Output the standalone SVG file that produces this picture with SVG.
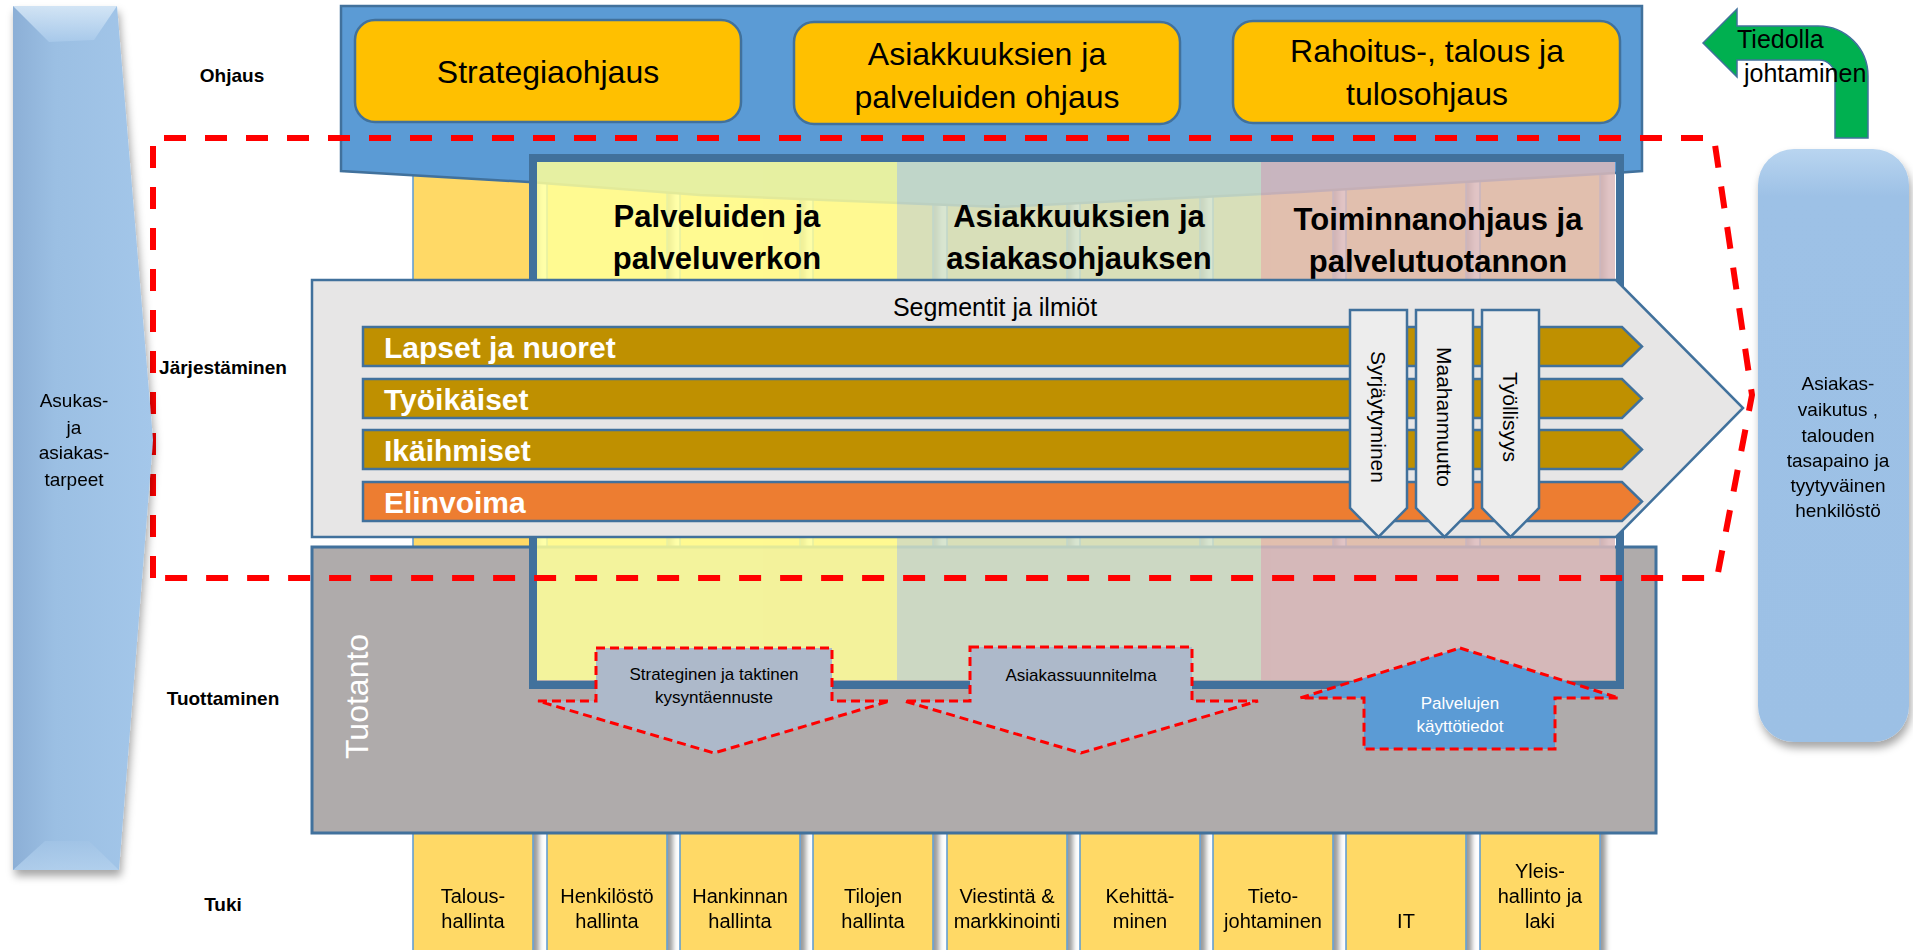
<svg xmlns="http://www.w3.org/2000/svg" width="1913" height="950" viewBox="0 0 1913 950">
<defs>
<style>
text{font-family:"Liberation Sans",Arial,sans-serif;fill:#000}
.row{font-size:19px;font-weight:bold;text-anchor:middle}
.ctrl{font-size:32px;text-anchor:middle}
.hdr{font-size:31px;font-weight:bold;text-anchor:middle}
.bar{font-size:30px;font-weight:bold;fill:#fff}
.vt{font-size:21px;text-anchor:middle}
.sm{font-size:17px;text-anchor:middle}
.tk{font-size:20px;text-anchor:middle}
.side{font-size:19px;text-anchor:middle}
.box{fill:#FFC000;stroke:#41719C;stroke-width:2.5}
.tcol{fill:#FFD966;stroke:#5B9BD5;stroke-width:1.5}
.seg{fill:#BF9000;stroke:#41719C;stroke-width:2.5}
.varr{fill:#EDEDED;stroke:#41719C;stroke-width:2.5}
.dash{stroke:#FF0000;stroke-width:3;stroke-dasharray:9 5}
</style>
<filter id="shR" x="-10%" y="-5%" width="130%" height="115%">
<feDropShadow dx="5" dy="1" stdDeviation="2.5" flood-color="#000" flood-opacity="0.4"/>
</filter>
<filter id="shD" x="-10%" y="-5%" width="130%" height="115%">
<feDropShadow dx="2" dy="6" stdDeviation="4" flood-color="#000" flood-opacity="0.35"/>
</filter>
<linearGradient id="sideG" x1="0" y1="0" x2="1" y2="0">
<stop offset="0" stop-color="#8CAFD6"/>
<stop offset="0.3" stop-color="#9BBFE3"/>
<stop offset="1" stop-color="#A4C7EA"/>
</linearGradient>
<linearGradient id="bevT" x1="0" y1="0" x2="0" y2="1">
<stop offset="0" stop-color="#DCEBF8"/>
<stop offset="1" stop-color="#A9CAEB"/>
</linearGradient>
<linearGradient id="bevB" x1="0" y1="0" x2="0" y2="1">
<stop offset="0" stop-color="#A2C4E6"/>
<stop offset="1" stop-color="#B5D2EE"/>
</linearGradient>
<linearGradient id="rcolG" x1="0" y1="0" x2="0" y2="1">
<stop offset="0" stop-color="#B9D5F0"/>
<stop offset="0.08" stop-color="#9DC1E6"/>
<stop offset="1" stop-color="#9CC0E5"/>
</linearGradient>
</defs>

<rect width="1913" height="950" fill="#fff"/>

<!-- Tuki columns (tall, behind) -->
<g id="tuki-columns" filter="url(#shR)">
<g id="tuki-talous"><rect class="tcol" x="413" y="160" width="120" height="800"/><text class="tk" x="473" y="903">Talous-</text><text class="tk" x="473" y="928">hallinta</text></g>
<g id="tuki-henkilosto"><rect class="tcol" x="547" y="160" width="120" height="800"/><text class="tk" x="607" y="903">Henkilöstö</text><text class="tk" x="607" y="928">hallinta</text></g>
<g id="tuki-hankinta"><rect class="tcol" x="680" y="160" width="120" height="800"/><text class="tk" x="740" y="903">Hankinnan</text><text class="tk" x="740" y="928">hallinta</text></g>
<g id="tuki-tilat"><rect class="tcol" x="813" y="160" width="120" height="800"/><text class="tk" x="873" y="903">Tilojen</text><text class="tk" x="873" y="928">hallinta</text></g>
<g id="tuki-viestinta"><rect class="tcol" x="947" y="160" width="120" height="800"/><text class="tk" x="1007" y="903">Viestintä &amp;</text><text class="tk" x="1007" y="928">markkinointi</text></g>
<g id="tuki-kehittaminen"><rect class="tcol" x="1080" y="160" width="120" height="800"/><text class="tk" x="1140" y="903">Kehittä-</text><text class="tk" x="1140" y="928">minen</text></g>
<g id="tuki-tietojohtaminen"><rect class="tcol" x="1213" y="160" width="120" height="800"/><text class="tk" x="1273" y="903">Tieto-</text><text class="tk" x="1273" y="928">johtaminen</text></g>
<g id="tuki-it"><rect class="tcol" x="1346" y="160" width="120" height="800"/><text class="tk" x="1406" y="928">IT</text></g>
<g id="tuki-yleishallinto"><rect class="tcol" x="1480" y="160" width="120" height="800"/><text class="tk" x="1540" y="878">Yleis-</text><text class="tk" x="1540" y="903">hallinto ja</text><text class="tk" x="1540" y="928">laki</text></g>
</g>

<!-- Tuotanto -->
<g id="tuotanto">
<rect x="312" y="547" width="1344" height="286" fill="#AFABAB" stroke="#41719C" stroke-width="3"/>
<text transform="translate(368,759) rotate(-90)" style="font-size:32px;fill:#fff">Tuotanto</text>
</g>

<!-- Ohjaus panel -->
<g id="ohjaus">
<polygon points="341,6 1642,6 1642,171 1615,173 1300,192 1000,207 700,195 529,182 341,171" fill="#5B9BD5" stroke="#41719C" stroke-width="2.5"/>
<g id="strategiaohjaus"><rect class="box" x="355" y="20" width="386" height="102" rx="20"/><text class="ctrl" x="548" y="83">Strategiaohjaus</text></g>
<g id="asiakkuusohjaus"><rect class="box" x="794" y="22" width="386" height="102" rx="20"/><text class="ctrl" x="987" y="65">Asiakkuuksien ja</text><text class="ctrl" x="987" y="108">palveluiden ohjaus</text></g>
<g id="tulosohjaus"><rect class="box" x="1233" y="21" width="387" height="102" rx="20"/><text class="ctrl" x="1427" y="62">Rahoitus-, talous ja</text><text class="ctrl" x="1427" y="105">tulosohjaus</text></g>
</g>

<!-- Frame with three columns -->
<g id="jarjestaminen-frame">
<g opacity="0.85">
<rect x="537" y="162" width="360" height="518" fill="#FFFF99"/>
<rect x="897" y="162" width="364" height="518" fill="#D2E1C8"/>
<rect x="1261" y="162" width="354" height="518" fill="#DCBABB"/>
</g>
<rect x="533" y="158" width="1087" height="527" fill="none" stroke="#41719C" stroke-width="8"/>
<g id="col-palvelut"><text class="hdr" x="717" y="227">Palveluiden ja</text><text class="hdr" x="717" y="269">palveluverkon</text></g>
<g id="col-asiakkuudet"><text class="hdr" x="1079" y="227">Asiakkuuksien ja</text><text class="hdr" x="1079" y="269">asiakasohjauksen</text></g>
<g id="col-toiminnanohjaus"><text class="hdr" x="1438" y="230">Toiminnanohjaus ja</text><text class="hdr" x="1438" y="272">palvelutuotannon</text></g>
</g>

<!-- Segmentit ja ilmiöt -->
<g id="segmentit">
<polygon points="312,280 1616,280 1743,408 1616,537 312,537" fill="#E7E6E6" stroke="#41719C" stroke-width="2.5"/>
<text x="995" y="316" style="font-size:25px;text-anchor:middle">Segmentit ja ilmiöt</text>
<g id="seg-lapset"><polygon class="seg" points="363,327 1622,327 1642,346.5 1622,366 363,366"/><text class="bar" x="384" y="358">Lapset ja nuoret</text></g>
<g id="seg-tyoikaiset"><polygon class="seg" points="363,379 1622,379 1642,398.5 1622,418 363,418"/><text class="bar" x="384" y="410">Työikäiset</text></g>
<g id="seg-ikaihmiset"><polygon class="seg" points="363,430 1622,430 1642,449.5 1622,469 363,469"/><text class="bar" x="384" y="461">Ikäihmiset</text></g>
<g id="seg-elinvoima"><polygon class="seg" points="363,482 1622,482 1642,501.5 1622,521 363,521" style="fill:#ED7D31"/><text class="bar" x="384" y="513">Elinvoima</text></g>
<g id="ilmio-syrjaytyminen"><polygon class="varr" points="1350,310 1407,310 1407,508 1378.5,537 1350,508"/><text class="vt" transform="translate(1371,417) rotate(90)">Syrjäytyminen</text></g>
<g id="ilmio-maahanmuutto"><polygon class="varr" points="1416,310 1473,310 1473,508 1444.5,537 1416,508"/><text class="vt" transform="translate(1437,417) rotate(90)">Maahanmuutto</text></g>
<g id="ilmio-tyollisyys"><polygon class="varr" points="1482,310 1539,310 1539,508 1510.5,537 1482,508"/><text class="vt" transform="translate(1503,417) rotate(90)">Työllisyys</text></g>
</g>

<!-- Information arrows -->
<g id="kysyntaennuste">
<polygon class="dash" points="596,648 832,648 832,701 890,701 714,753 538,701 596,701" fill="#ADB9CA"/>
<text class="sm" x="714" y="680">Strateginen ja taktinen</text>
<text class="sm" x="714" y="703">kysyntäennuste</text>
</g>
<g id="asiakassuunnitelma">
<polygon class="dash" points="970,647 1192,647 1192,701 1258,701 1081,753 904,701 970,701" fill="#ADB9CA"/>
<text class="sm" x="1081" y="681">Asiakassuunnitelma</text>
</g>
<g id="kayttotiedot">
<polygon class="dash" points="1460,648 1619,698 1555,698 1555,749 1364,749 1364,698 1300,698" fill="#5B9BD5"/>
<text class="sm" x="1460" y="709" style="fill:#fff">Palvelujen</text>
<text class="sm" x="1460" y="732" style="fill:#fff">käyttötiedot</text>
</g>

<!-- Järjestäminen boundary -->
<g id="connectors">
<path d="M153,578 L153,138 L1714,138 L1752,395 L1717,578 Z" fill="none" stroke="#FF0000" stroke-width="6" stroke-dasharray="22 19"/>
</g>

<!-- Left column -->
<g id="asukastarpeet" filter="url(#shD)">
<polygon points="13,6 117,6 153,440 119,870 13,870" fill="url(#sideG)"/>
<polygon points="13,6 117,6 94,40 49,42" fill="url(#bevT)" opacity="0.85"/>
<polygon points="13,870 119,870 89,841 45,841" fill="url(#bevB)" opacity="0.8"/>
<text class="side" x="74" y="407">Asukas-</text>
<text class="side" x="74" y="434">ja</text>
<text class="side" x="74" y="459">asiakas-</text>
<text class="side" x="74" y="486">tarpeet</text>
</g>

<!-- Right column -->
<g id="tavoitteet" filter="url(#shD)">
<rect x="1758" y="149" width="151" height="593" rx="36" fill="url(#rcolG)"/>
<text class="side" x="1838" y="390">Asiakas-</text>
<text class="side" x="1838" y="416">vaikutus ,</text>
<text class="side" x="1838" y="442">talouden</text>
<text class="side" x="1838" y="467">tasapaino ja</text>
<text class="side" x="1838" y="492">tyytyväinen</text>
<text class="side" x="1838" y="517">henkilöstö</text>
</g>

<!-- Tiedolla johtaminen arrow -->
<g id="tiedolla-johtaminen">
<path d="M1703,43 L1737,9 L1737,26 L1818,26 A50,50 0 0 1 1868,76 L1868,138 L1835,138 L1835,76 A16,16 0 0 0 1819,60 L1737,60 L1737,77 Z" fill="#00B050" stroke="#41719C" stroke-width="1.5"/>
<text x="1737" y="48" style="font-size:25px">Tiedolla</text>
<text x="1744" y="82" style="font-size:25px">johtaminen</text>
</g>

<!-- Row labels -->
<g id="row-labels">
<text class="row" x="232" y="82">Ohjaus</text>
<text class="row" x="223" y="374">Järjestäminen</text>
<text class="row" x="223" y="705">Tuottaminen</text>
<text class="row" x="223" y="911">Tuki</text>
</g>
</svg>
